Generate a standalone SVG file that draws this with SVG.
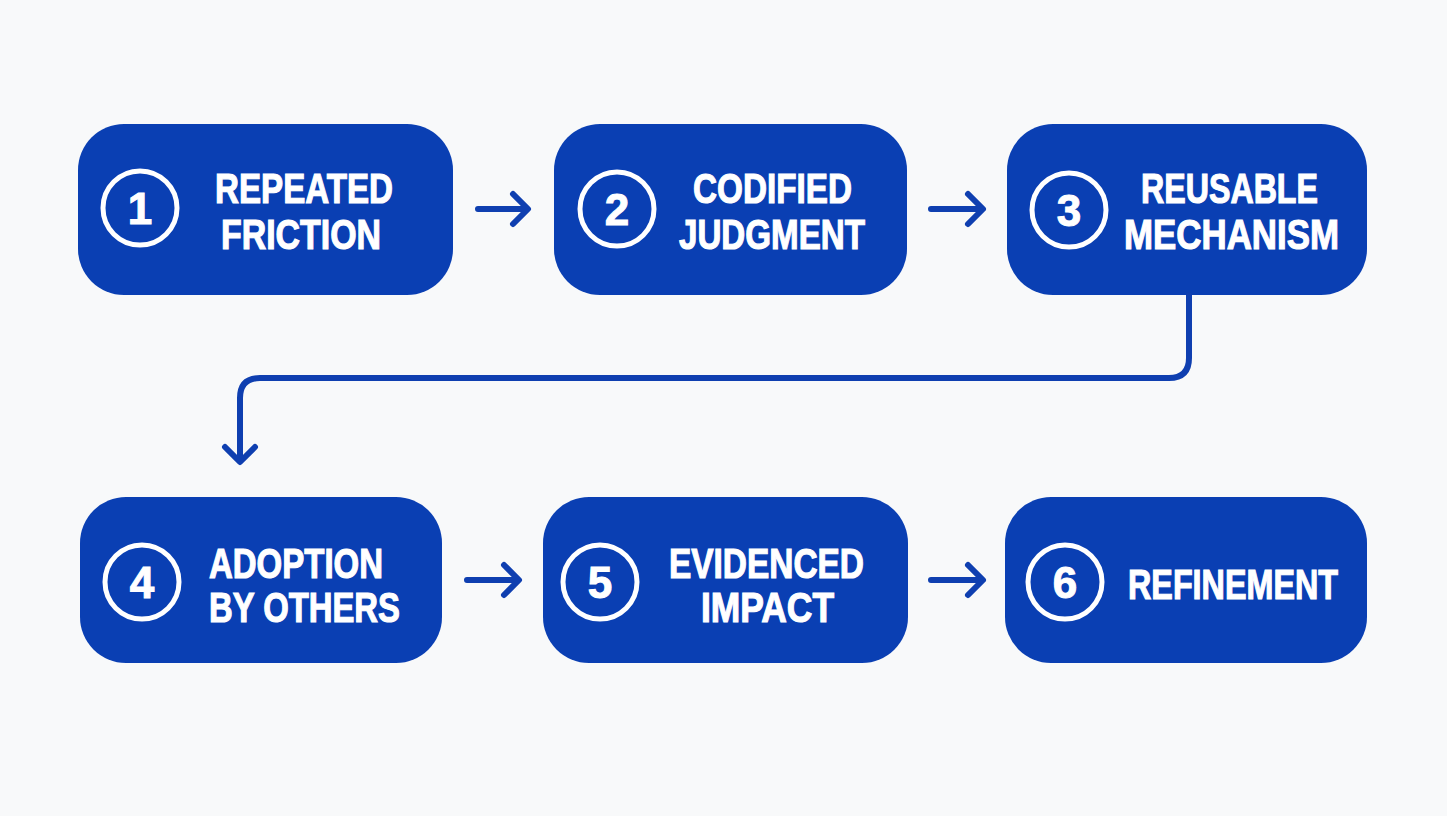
<svg xmlns="http://www.w3.org/2000/svg" width="1447" height="816" viewBox="0 0 1447 816">
<defs>
<style>
.node{fill:#0a3fb3}
.ring{fill:none;stroke:#ffffff;stroke-width:5}
.num{fill:#ffffff;stroke:#ffffff;stroke-width:1;font-family:"Liberation Sans",Arial,sans-serif;font-weight:bold;font-size:44px;text-anchor:middle}
.lbl{fill:#ffffff;stroke:#ffffff;stroke-width:1.2;font-family:"Liberation Sans",Arial,sans-serif;font-weight:bold;font-size:43px}
.conn{fill:none;stroke:#0f3fb0;stroke-width:6;stroke-linecap:round;stroke-linejoin:round}
</style>
</defs>
<rect width="1447" height="816" fill="#f8f9fa"/>
<g id="node1">
<rect class="node" x="78" y="124" width="375" height="171" rx="46"/>
<circle class="ring" cx="140" cy="208" r="37"/>
<text class="num" x="140" y="224">1</text>
<text class="lbl" x="215" y="203" textLength="178" lengthAdjust="spacingAndGlyphs">REPEATED</text>
<text class="lbl" x="221" y="249" textLength="160" lengthAdjust="spacingAndGlyphs">FRICTION</text>
</g>
<g id="node2">
<rect class="node" x="554" y="124" width="353" height="171" rx="46"/>
<circle class="ring" cx="617" cy="209" r="37"/>
<text class="num" x="617" y="225">2</text>
<text class="lbl" x="693" y="203" textLength="159" lengthAdjust="spacingAndGlyphs">CODIFIED</text>
<text class="lbl" x="679" y="249" textLength="186" lengthAdjust="spacingAndGlyphs">JUDGMENT</text>
</g>
<g id="node3">
<rect class="node" x="1007" y="124" width="360" height="171" rx="46"/>
<circle class="ring" cx="1069" cy="210" r="37"/>
<text class="num" x="1069" y="226">3</text>
<text class="lbl" x="1141" y="203" textLength="177" lengthAdjust="spacingAndGlyphs">REUSABLE</text>
<text class="lbl" x="1124" y="249" textLength="215" lengthAdjust="spacingAndGlyphs">MECHANISM</text>
</g>
<g id="node4">
<rect class="node" x="80" y="497" width="362" height="166" rx="46"/>
<circle class="ring" cx="142" cy="582" r="37"/>
<text class="num" x="142" y="598">4</text>
<text class="lbl" x="209" y="578" textLength="174" lengthAdjust="spacingAndGlyphs">ADOPTION</text>
<text class="lbl" x="209" y="622" textLength="191" lengthAdjust="spacingAndGlyphs">BY OTHERS</text>
</g>
<g id="node5">
<rect class="node" x="543" y="497" width="365" height="166" rx="46"/>
<circle class="ring" cx="600" cy="582" r="37"/>
<text class="num" x="600" y="598">5</text>
<text class="lbl" x="669" y="578" textLength="195" lengthAdjust="spacingAndGlyphs">EVIDENCED</text>
<text class="lbl" x="701" y="622" textLength="133" lengthAdjust="spacingAndGlyphs">IMPACT</text>
</g>
<g id="node6">
<rect class="node" x="1005" y="497" width="362" height="166" rx="46"/>
<circle class="ring" cx="1065" cy="582" r="37"/>
<text class="num" x="1065" y="598">6</text>
<text class="lbl" x="1128" y="599" textLength="210" lengthAdjust="spacingAndGlyphs">REFINEMENT</text>
</g>
<g id="connectors">
<path class="conn" d="M478 209 H527 M513 194 L528 209 L513 224"/>
<path class="conn" d="M931 209 H982 M968 194 L983 209 L968 224"/>
<path class="conn" d="M1189 295 V358 Q1189 378 1169 378 H260 Q240 378 240 398 V461 M225 447 L240 462 L255 447"/>
<path class="conn" d="M467 580 H518 M504 565 L519 580 L504 595"/>
<path class="conn" d="M931 580 H982 M968 565 L983 580 L968 595"/>
</g>
</svg>
